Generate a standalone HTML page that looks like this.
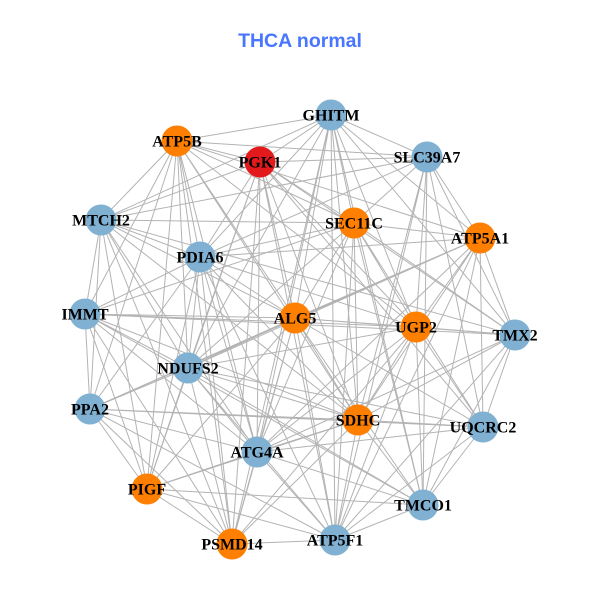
<!DOCTYPE html>
<html><head><meta charset="utf-8"><style>
html,body{margin:0;padding:0;background:#fff;}
svg{display:block;}
.l{font-family:"Liberation Serif",serif;font-weight:bold;font-size:16px;fill:#000;text-anchor:middle;}
</style></head><body>
<svg width="600" height="600" viewBox="0 0 600 600" xmlns="http://www.w3.org/2000/svg">
<rect width="600" height="600" fill="#fff"/>
<text x="300" y="47" text-anchor="middle" style="font-family:'Liberation Sans',sans-serif;font-weight:bold;font-size:19.5px;fill:#4876ff">THCA normal</text>
<g fill="none" stroke="#b3b3b3" stroke-width="1">
<path d="M331 115L177 141M331 115L260 162M331 115L427 157M331 115L101 220M331 115L354 223M331 115L480 238M331 115L200 257M331 115L295 318M331 115L416 327M331 115L515 335M331 115L188 368M331 115L358 420M331 115L257 452M331 115L423 505M331 115L232 544M331 115L335 540"/>
<path d="M177 141L260 162M177 141L427 157M177 141L101 220M177 141L354 223M177 141L480 238M177 141L200 257M177 141L85 314M177 141L295 318M177 141L416 327M177 141L188 368M177 141L90 409M177 141L358 420M177 141L257 452M177 141L147 489M177 141L232 544"/>
<path d="M260 162L427 157M260 162L101 220M260 162L354 223M260 162L200 257M260 162L295 318M260 162L416 327M260 162L515 335M260 162L188 368M260 162L358 420M260 162L483 427M260 162L257 452M260 162L147 489M260 162L232 544M260 162L335 540"/>
<path d="M427 157L101 220M427 157L354 223M427 157L480 238M427 157L200 257M427 157L416 327M427 157L515 335M427 157L358 420M427 157L483 427M427 157L423 505M427 157L335 540"/>
<path d="M101 220L354 223M101 220L200 257M101 220L85 314M101 220L295 318M101 220L515 335M101 220L188 368M101 220L90 409M101 220L358 420M101 220L257 452M101 220L147 489M101 220L232 544"/>
<path d="M354 223L480 238M354 223L200 257M354 223L85 314M354 223L295 318M354 223L416 327M354 223L515 335M354 223L188 368M354 223L358 420M354 223L483 427M354 223L257 452M354 223L423 505M354 223L335 540"/>
<path d="M480 238L200 257M480 238L295 318M480 238L416 327M480 238L515 335M480 238L188 368M480 238L90 409M480 238L358 420M480 238L483 427M480 238L257 452M480 238L423 505M480 238L335 540"/>
<path d="M200 257L85 314M200 257L295 318M200 257L416 327M200 257L188 368M200 257L90 409M200 257L358 420M200 257L257 452M200 257L147 489M200 257L232 544M200 257L335 540"/>
<path d="M85 314L295 318M85 314L416 327M85 314L515 335M85 314L188 368M85 314L90 409M85 314L358 420M85 314L257 452M85 314L147 489M85 314L423 505M85 314L232 544"/>
<path d="M295 318L416 327M295 318L515 335M295 318L188 368M295 318L90 409M295 318L358 420M295 318L483 427M295 318L257 452M295 318L147 489M295 318L423 505M295 318L232 544M295 318L335 540"/>
<path d="M416 327L515 335M416 327L188 368M416 327L358 420M416 327L483 427M416 327L257 452M416 327L423 505M416 327L232 544M416 327L335 540"/>
<path d="M515 335L358 420M515 335L483 427M515 335L257 452M515 335L423 505M515 335L335 540"/>
<path d="M188 368L90 409M188 368L358 420M188 368L483 427M188 368L257 452M188 368L147 489M188 368L423 505M188 368L232 544M188 368L335 540"/>
<path d="M90 409L358 420M90 409L483 427M90 409L257 452M90 409L147 489M90 409L232 544M90 409L335 540"/>
<path d="M358 420L483 427M358 420L257 452M358 420L147 489M358 420L423 505M358 420L232 544M358 420L335 540"/>
<path d="M483 427L257 452M483 427L423 505M483 427L335 540"/>
<path d="M257 452L147 489M257 452L423 505M257 452L232 544M257 452L335 540"/>
<path d="M147 489L423 505M147 489L232 544M147 489L335 540"/>
<path d="M423 505L335 540M232 544L335 540"/>
</g>
<g>
<circle cx="331" cy="115" r="15.5" fill="#80b1d3"/>
<circle cx="177" cy="141" r="15.5" fill="#ff7f00"/>
<circle cx="260" cy="162" r="15.5" fill="#e31a1c"/>
<circle cx="427" cy="157" r="15.5" fill="#80b1d3"/>
<circle cx="101" cy="220" r="15.5" fill="#80b1d3"/>
<circle cx="354" cy="223" r="15.5" fill="#ff7f00"/>
<circle cx="480" cy="238" r="15.5" fill="#ff7f00"/>
<circle cx="200" cy="257" r="15.5" fill="#80b1d3"/>
<circle cx="85" cy="314" r="15.5" fill="#80b1d3"/>
<circle cx="295" cy="318" r="15.5" fill="#ff7f00"/>
<circle cx="416" cy="327" r="15.5" fill="#ff7f00"/>
<circle cx="515" cy="335" r="15.5" fill="#80b1d3"/>
<circle cx="188" cy="368" r="15.5" fill="#80b1d3"/>
<circle cx="90" cy="409" r="15.5" fill="#80b1d3"/>
<circle cx="358" cy="420" r="15.5" fill="#ff7f00"/>
<circle cx="483" cy="427" r="15.5" fill="#80b1d3"/>
<circle cx="257" cy="452" r="15.5" fill="#80b1d3"/>
<circle cx="147" cy="489" r="15.5" fill="#ff7f00"/>
<circle cx="423" cy="505" r="15.5" fill="#80b1d3"/>
<circle cx="232" cy="544" r="15.5" fill="#ff7f00"/>
<circle cx="335" cy="540" r="15.5" fill="#80b1d3"/>
</g>
<g>
<text class="l" x="331" y="120.5">GHITM</text>
<text class="l" x="177" y="146.5">ATP5B</text>
<text class="l" x="260" y="167.5">PGK1</text>
<text class="l" x="427" y="162.5">SLC39A7</text>
<text class="l" x="101" y="225.5">MTCH2</text>
<text class="l" x="354" y="228.5">SEC11C</text>
<text class="l" x="480" y="243.5">ATP5A1</text>
<text class="l" x="200" y="262.5">PDIA6</text>
<text class="l" x="85" y="319.5">IMMT</text>
<text class="l" x="295" y="323.5">ALG5</text>
<text class="l" x="416" y="332.5">UGP2</text>
<text class="l" x="515" y="340.5">TMX2</text>
<text class="l" x="188" y="373.5">NDUFS2</text>
<text class="l" x="90" y="414.5">PPA2</text>
<text class="l" x="358" y="425.5">SDHC</text>
<text class="l" x="483" y="432.5">UQCRC2</text>
<text class="l" x="257" y="457.5">ATG4A</text>
<text class="l" x="147" y="494.5">PIGF</text>
<text class="l" x="423" y="510.5">TMCO1</text>
<text class="l" x="232" y="549.5">PSMD14</text>
<text class="l" x="335" y="545.5">ATP5F1</text>
</g>
</svg>
</body></html>
